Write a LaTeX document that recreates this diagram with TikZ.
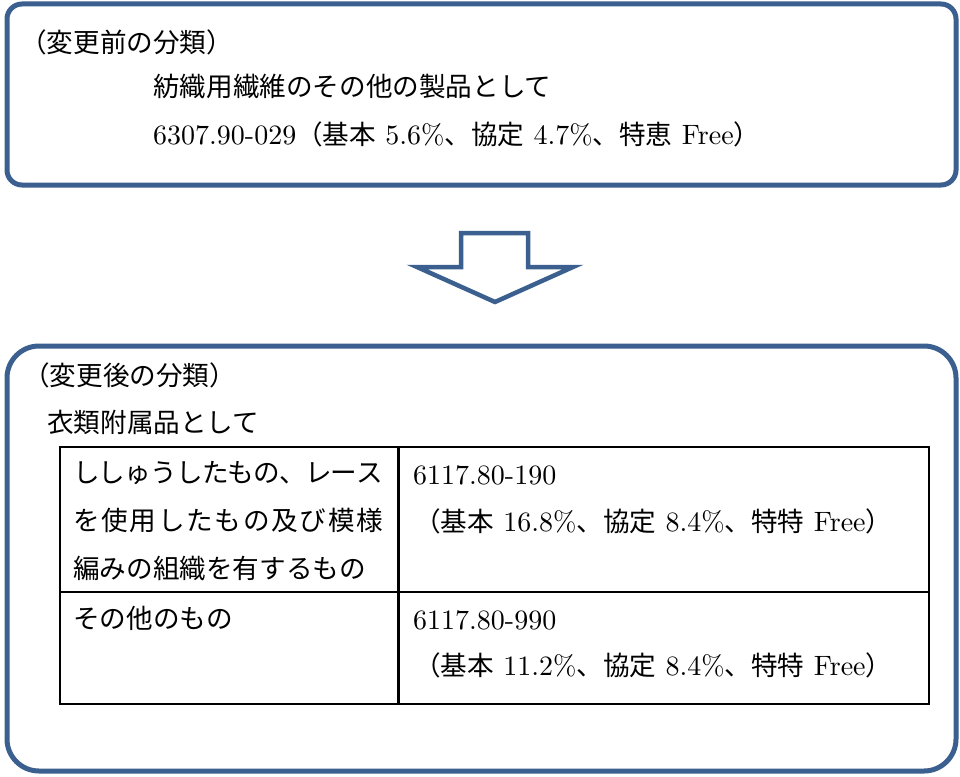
\documentclass[tikz,border=0pt]{standalone}
\usepackage{fontspec}
\setmainfont{lmroman10-regular.otf}
\newfontfamily\jp{Noto Sans CJK JP}[Scale=0.95]
\definecolor{boxblue}{HTML}{3B5F8E}
\def\distribaux#1{#1\futurelet\distribnext\distribcheck}
\def\distribcheck{\ifx\distribnext\relax\expandafter\distribgobble\else\hskip 0pt plus 1fil minus 1pt\expandafter\distribaux\fi}
\def\distribgobble#1{}
\newcommand\distrib[2]{\makebox[#1][s]{\distribaux#2\relax}}
\tikzset{
  bluebox/.style={draw=boxblue, line width=5pt, inner sep=0pt},
  cell/.style={draw=black, line width=2.2pt, inner sep=0pt},
  txt/.style={anchor=west, inner sep=0pt, font=\fontsize{28}{30}\selectfont, text height=23.4pt, text depth=3.2pt},
  bigarrow/.style={draw=boxblue, line width=4.5pt, line join=miter}
}
\begin{document}
\begin{tikzpicture}[x=1pt,y=-1pt]
\useasboundingbox (0,0) rectangle (960,776);
% boxes
\node[bluebox, rounded corners=15pt, minimum width=949pt, minimum height=181pt] (before) at (481.5,94.5) {};
\node[bluebox, rounded corners=32pt, minimum width=949pt, minimum height=425pt] (after) at (481.5,558.5) {};
% arrow
\draw[bigarrow] (461,233) -- (528,233) -- (528,267) -- (573,267) -- (495,302) -- (417,267) -- (461,267) -- cycle;
% table
\node[cell, minimum width=338.5pt, minimum height=145pt] (c11) at (229.25,519.5) {};
\node[cell, minimum width=530.5pt, minimum height=145pt] (c12) at (663.75,519.5) {};
\node[cell, minimum width=338.5pt, minimum height=112pt] (c21) at (229.25,648) {};
\node[cell, minimum width=530.5pt, minimum height=112pt] (c22) at (663.75,648) {};
% texts top
\node[txt] (t1) at (20,42.5) {\jp （変更前の分類）};
\node[txt] (t2) at (153,86.5) {\jp 紡織用繊維のその他の製品として};
\node[txt] (t3) at (153,134) {6307.90-029{\jp （基本} 5.6\%{\jp 、協定} 4.7\%{\jp 、特恵} Free{\jp ）}};
% texts bottom
\node[txt] (t4) at (23,375) {\jp （変更後の分類）};
\node[txt] (t5) at (47,422) {\jp 衣類附属品として};
\node[txt] (r1a) at (73,472) {\jp\distrib{310pt}{ししゅうしたもの、レース}};
\node[txt] (r1b) at (73,520) {\jp\distrib{310pt}{を使用したもの及び模様}};
\node[txt] (r1c) at (73,568) {\jp 編みの組織を有するもの};
\node[txt] (r2a) at (73,618) {\jp その他のもの};
\node[txt] (v1a) at (413,474) {6117.80-190};
\node[txt] (v1b) at (414,521) {{\jp （基本} 16.8\%{\jp 、協定} 8.4\%{\jp 、特特} Free{\jp ）}};
\node[txt] (v2a) at (413,619) {6117.80-990};
\node[txt] (v2b) at (414,665) {{\jp （基本} 11.2\%{\jp 、協定} 8.4\%{\jp 、特特} Free{\jp ）}};
\end{tikzpicture}
\end{document}
